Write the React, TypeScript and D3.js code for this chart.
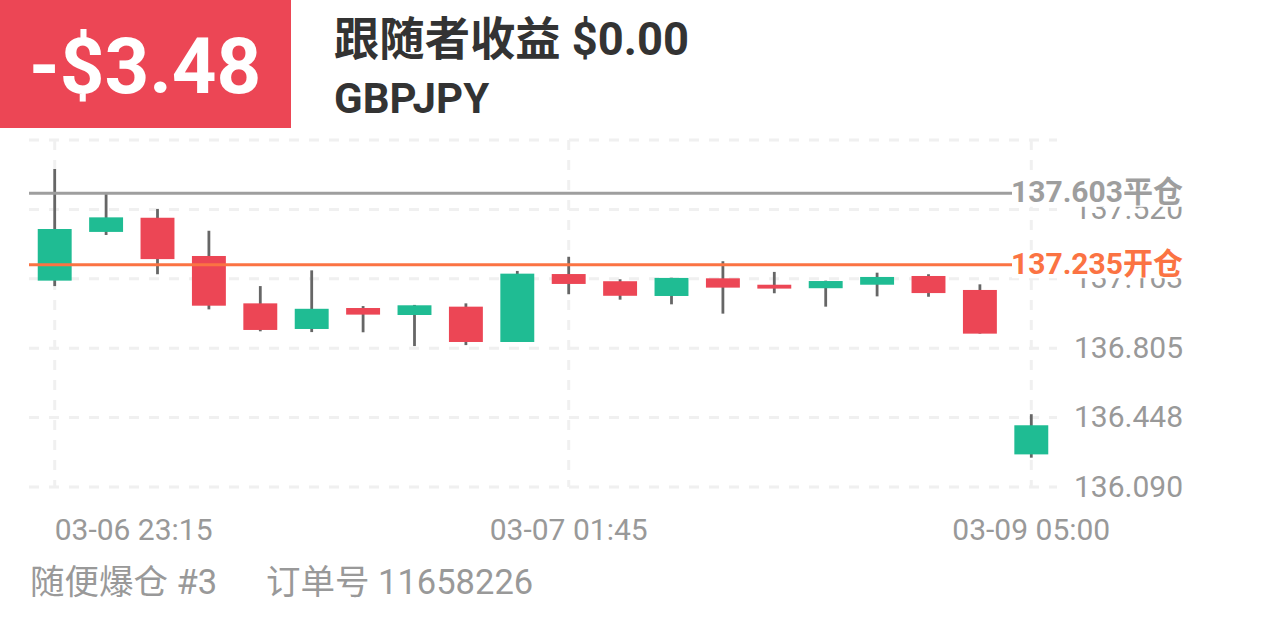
import React from "react";
import * as d3 from "d3";

// ---- data ----
const candleIdx = d3.range(20);
const opens = [137.153, 137.404, 137.477, 137.28, 137.036, 136.904, 137.012, 136.976, 137.019, 136.837, 137.187, 137.15, 137.074, 137.165, 137.132, 137.114, 137.132, 137.177, 137.105, 136.258];
const highs = [137.728, 137.599, 137.522, 137.41, 137.125, 137.206, 137.022, 137.028, 137.036, 137.203, 137.276, 137.16, 137.168, 137.253, 137.198, 137.153, 137.194, 137.186, 137.134, 136.465];
const lows = [137.125, 137.388, 137.186, 137.005, 136.892, 136.888, 136.887, 136.816, 136.821, 136.837, 137.083, 137.055, 137.031, 136.983, 137.088, 137.019, 137.072, 137.07, 136.88, 136.241];
const closes = [137.419, 137.479, 137.264, 137.024, 136.899, 137.008, 136.978, 137.026, 136.837, 137.189, 137.136, 137.075, 137.167, 137.117, 137.112, 137.151, 137.172, 137.089, 136.88, 136.408];

const xTickIdx = [0, 10, 19];
const xTickLabels = ["03-06 23:15", "03-07 01:45", "03-09 05:00"];

const yGridValues = [136.09, 136.4475, 136.805, 137.1625, 137.52, 137.8775];
const yTickLabels = ["136.090", "136.448", "136.805", "137.163", "137.520", ""];

const closePrice = 137.603;
const openPrice = 137.235;
const closeLabel = "137.603平仓";
const openLabel = "137.235开仓";

const profitText = "-$3.48";
const titleText = "跟随者收益 $0.00";
const symbolText = "GBPJPY";
const footLeft = "随便爆仓 #3";
const footRight = "订单号 11658226";

// ---- style ----
const W = 1266;
const H = 633;
const RED = "#ec4655";
const GREEN = "#1fbc93";
const ORANGE = "#fb7343";
const GRAY_LINE = "#9e9e9e";
const LABEL = "#999999";
const FONT = "Roboto, 'Noto Sans CJK SC', sans-serif";

export default function App() {
  const plotL = 29, plotR = 1057, plotT = 140, plotB = 487;
  const x = d3.scaleBand<number>().domain(candleIdx).range([plotL, plotR]).paddingInner(0.34).paddingOuter(0.17);
  const y = d3.scaleLinear().domain([136.09, 137.8775]).range([plotB, plotT]);
  const cx = (i: number) => (x(i) as number) + x.bandwidth() / 2;

  const priceLines = [
    { v: closePrice, label: closeLabel, color: GRAY_LINE },
    { v: openPrice, label: openLabel, color: ORANGE },
  ];

  return (
    <div style={{ position: "absolute", left: 0, top: 0 }}>
      <svg width={W} height={H} style={{ display: "block", fontFamily: FONT }}>
        <rect width={W} height={H} fill="#fff" />
        {/* header */}
        <rect x={0} y={0} width={291} height={128} fill={RED} />
        <text x={29} y={93} fontSize={78} fontWeight="bold" fill="#fff">{profitText}</text>
        <text x={334} y={55} fontSize={46} fontWeight="bold" fill="#333" textLength={355} lengthAdjust="spacingAndGlyphs">{titleText}</text>
        <text x={334} y={113} fontSize={42} fontWeight="bold" fill="#333">{symbolText}</text>

        {/* grid */}
        {yGridValues.map((v, i) => (
          <line key={"hg" + i} x1={plotL} x2={plotR} y1={y(v)} y2={y(v)} stroke="#f0f0f0" strokeWidth={3} strokeDasharray="10,10" />
        ))}
        {xTickIdx.map((i) => (
          <line key={"vg" + i} x1={cx(i)} x2={cx(i)} y1={plotT} y2={plotB} stroke="#f0f0f0" strokeWidth={3} strokeDasharray="10,10" />
        ))}

        {/* y labels */}
        {yGridValues.map((v, i) => (
          <text key={"yl" + i} x={1183} y={y(v) + 9.5} fontSize={30} fill={LABEL} textAnchor="end">{yTickLabels[i]}</text>
        ))}

        {/* candles */}
        {candleIdx.map((i) => {
          const up = closes[i] >= opens[i];
          const top = y(Math.max(opens[i], closes[i]));
          const bot = y(Math.min(opens[i], closes[i]));
          return (
            <g key={"c" + i}>
              <line x1={cx(i)} x2={cx(i)} y1={y(highs[i])} y2={y(lows[i])} stroke="#666" strokeWidth={2.8} />
              <rect x={x(i)} y={top} width={x.bandwidth()} height={Math.max(1, bot - top)} fill={up ? GREEN : RED} />
            </g>
          );
        })}

        {/* price lines */}
        {priceLines.map((p, i) => (
          <g key={"pl" + i}>
            <line x1={plotL} x2={1012} y1={y(p.v)} y2={y(p.v)} stroke={p.color} strokeWidth={3} />
            <rect x={1012} y={y(p.v) - 13.5} width={W - 1012} height={27} fill="#fff" />
            <text x={1183} y={y(p.v) + 9} fontSize={30} fontWeight="bold" fill={p.color} textAnchor="end">{p.label}</text>
          </g>
        ))}

        {/* x labels */}
        {xTickIdx.map((idx, k) => (
          <text key={"xl" + k} x={cx(idx)} y={540} fontSize={30} fill={LABEL} textAnchor={k === 0 ? "start" : "middle"}>{xTickLabels[k]}</text>
        ))}

        {/* footer */}
        <text x={30} y={594} fontSize={34.5} fill={LABEL}>{footLeft}</text>
        <text x={266} y={594} fontSize={34.5} fill={LABEL}>{footRight}</text>
      </svg>
    </div>
  );
}
